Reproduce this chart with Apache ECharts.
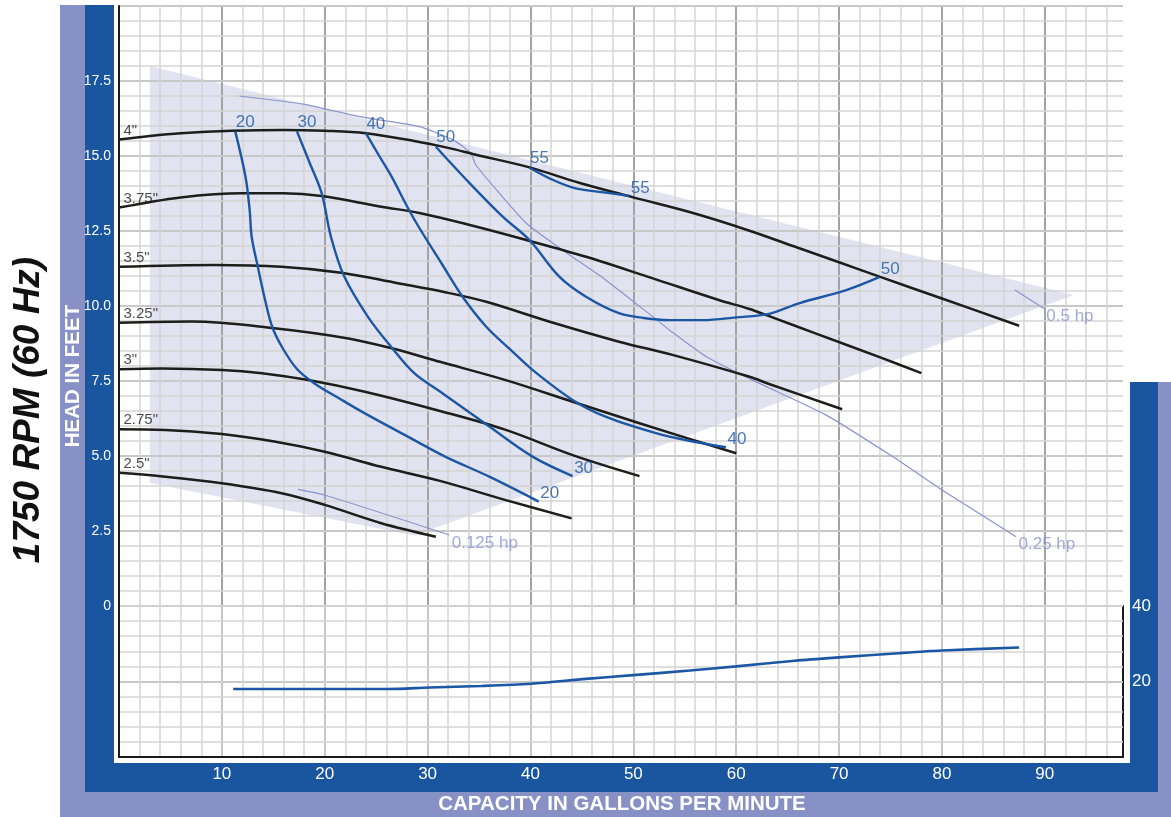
<!DOCTYPE html>
<html><head><meta charset="utf-8">
<script src="https://cdn.jsdelivr.net/npm/echarts@6/dist/echarts.min.js"></script>
<style>html,body{margin:0;padding:0;background:#fff}#c{width:1171px;height:817px}</style>
</head><body><div id="c"></div>
<script>
// ---------- DATA (GPM, head in feet) ----------
const impellerNames = ['4"', '3.75"', '3.5"', '3.25"', '3"', '2.75"', '2.5"'];
const imp4   = [[0,15.55],[3,15.67],[6,15.76],[11,15.84],[16,15.87],[20,15.84],[24,15.76],[28.7,15.5],[32,15.27],[34.6,15.05],[39.9,14.62],[44.8,14.1],[49.9,13.63],[55.8,13.1],[61.3,12.51],[66,11.94],[70,11.46],[74,10.97],[80,10.25],[87.5,9.34]];
const imp375 = [[0,13.28],[6,13.62],[12,13.76],[16,13.76],[19.7,13.67],[25.5,13.31],[29.2,13.1],[34.1,12.7],[39.6,12.2],[45.4,11.64],[51.9,10.92],[58.3,10.2],[61.3,9.9],[63.2,9.66],[67.7,9.09],[74.2,8.26],[78,7.76]];
const imp35  = [[0,11.31],[9.3,11.37],[15.8,11.31],[21.6,11.11],[27.1,10.76],[31.7,10.46],[35.7,10.14],[42.2,9.44],[48.6,8.81],[53.8,8.37],[61.3,7.64],[63.2,7.4],[70.3,6.56]];
const imp325 = [[0,9.44],[7.1,9.48],[15.1,9.26],[22.3,8.92],[26.5,8.59],[31.2,8.14],[37.6,7.53],[44.1,6.81],[50.6,6.09],[60,5.09]];
const imp3   = [[0,7.89],[4.1,7.92],[10,7.87],[13.9,7.76],[18.4,7.53],[23.9,7.14],[31.2,6.5],[37.6,5.87],[44.1,5.03],[50.6,4.33]];
const imp275 = [[0,5.89],[4.5,5.87],[10,5.73],[15.1,5.48],[20,5.14],[25.5,4.64],[31.2,4.17],[37.6,3.53],[44,2.92]];
const imp25  = [[0,4.44],[4.5,4.31],[10,4.09],[15.8,3.76],[20,3.37],[25.5,2.76],[30.8,2.31]];

const effNames = ['20', '30', '40', '50', '55'];
const eff20 = [[11.3,15.82],[12.3,14.3],[12.7,13.2],[12.9,12.3],[13.5,11.3],[14.2,10.2],[14.9,9.3],[15.9,8.6],[17.3,7.9],[19,7.42],[21.5,6.9],[23.9,6.42],[28.7,5.53],[31.7,4.98],[36,4.31],[40.8,3.48]];
const eff30 = [[17.3,15.82],[18.5,14.8],[19.7,13.76],[20.6,12.31],[21.9,10.98],[24.2,9.64],[26.5,8.62],[28.7,7.76],[31.2,7.15],[36,5.98],[40.2,4.98],[44.1,4.33]];
const eff40 = [[24,15.76],[25.3,15.0],[26.5,14.31],[28.1,13.26],[29.2,12.6],[31.3,11.45],[33.4,10.31],[35.7,9.31],[38.1,8.53],[40.2,7.87],[44.1,6.87],[47.3,6.31],[52.2,5.76],[55.5,5.5],[59,5.29]];
const eff50 = [[30.8,15.31],[34.1,14.09],[37.3,12.98],[39.9,12.2],[42.8,10.98],[45.4,10.31],[48.6,9.76],[51,9.6],[53.5,9.53],[56.7,9.53],[60,9.62],[63.2,9.74],[66.1,10.09],[70.7,10.53],[73.9,10.96]];
const eff55 = [[39.9,14.61],[42.2,14.2],[44.4,13.92],[47.3,13.78],[49.6,13.67]];

const hpNames = ['0.125 hp', '0.25 hp', '0.5 hp'];
const hp0125 = [[17.4,3.89],[20,3.7],[32.1,2.37]];
const hp025  = [[11.7,17.0],[17.9,16.73],[23.4,16.31],[29.2,15.98],[32.5,15.53],[34.2,15.09],[34.7,14.7],[36.7,13.87],[39.6,12.76],[43.1,11.87],[47.3,10.87],[51.9,9.64],[53.5,9.2],[57.1,8.31],[61.6,7.53],[68.7,6.37],[75.2,4.98],[80,3.87],[87.2,2.31]];
const hp05   = [[87.1,10.53],[89.9,9.92]];

// operating region (shaded)
const shadeVerts = [[3,18],[92.8,10.37],[28.7,2.35],[3,4.1]];

// lower panel: efficiency (%) vs GPM
const effPct = [[11.1,18],[26.1,18],[30.2,18.4],[35.2,18.8],[40,19.4],[45.4,20.7],[50,21.7],[55.5,22.9],[60,24.0],[65.7,25.5],[70,26.4],[75.8,27.5],[80,28.2],[87.5,29.0]];

// axis ranges / ticks
const gpmMax = 97.6, gpmMajor = 10, gpmMinor = 2;
const headMax = 20, headMajor = 2.5, headMinor = 0.5;
const pctMax = 40, pctMajor = 20, pctMinor = 4;

// ---------- STYLE ----------
const FONT = "'Liberation Sans', Arial, Helvetica, sans-serif";
const BLACK = '#1d1d1b', BLUE = '#1b57a5', HPC = '#8a94cf', SHADE = '#e1e3f0';
const LIGHT = '#8891c6', DARK = '#1a55a0';
const MINOR = '#d4d4d4', MAJOR = '#a3a3a3';

const impellers = [imp4, imp375, imp35, imp325, imp3, imp275, imp25];
const effs = [eff20, eff30, eff40, eff50, eff55];
const hps = [hp0125, hp025, hp05];

function gridAxisX(gi, interval, color, width, extra) {
  return Object.assign({
    type: 'value', gridIndex: gi, min: 0, max: gpmMax, interval: interval,
    axisLine: { show: false, onZero: false }, axisTick: { show: false },
    axisLabel: { show: false },
    splitLine: { show: true, showMaxLine: false, lineStyle: { color: color, width: width } },
    z: 0
  }, extra || {});
}
function gridAxisY(gi, max, interval, color, width, extra) {
  return Object.assign({
    type: 'value', gridIndex: gi, min: 0, max: max, interval: interval,
    axisLine: { show: false, onZero: false }, axisTick: { show: false },
    axisLabel: { show: false },
    splitLine: { show: true, lineStyle: { color: color, width: width } },
    z: 0
  }, extra || {});
}
const axisBlack = { show: true, onZero: false, lineStyle: { color: '#1a1a1a', width: 2 } };

const series = [];
series.push({
  type: 'custom', xAxisIndex: 0, yAxisIndex: 0, z: -1, silent: true,
  data: [shadeVerts[0]],
  renderItem: function (params, api) {
    return { type: 'polygon', shape: { points: shadeVerts.map(p => api.coord(p)) }, style: { fill: SHADE } };
  }
});
hps.forEach((d, i) => series.push({
  type: 'line', name: hpNames[i], data: d, xAxisIndex: 0, yAxisIndex: 0, z: 3,
  showSymbol: false, symbol: 'none', smooth: 0.2, lineStyle: { color: HPC, width: 1.2 }
}));
impellers.forEach((d, i) => series.push({
  type: 'line', name: impellerNames[i], data: d, xAxisIndex: 0, yAxisIndex: 0, z: 4,
  showSymbol: false, symbol: 'none', smooth: 0.35, lineStyle: { color: BLACK, width: 2.5 }
}));
effs.forEach((d, i) => series.push({
  type: 'line', name: effNames[i], data: d, xAxisIndex: 0, yAxisIndex: 0, z: 5,
  showSymbol: false, symbol: 'none', smooth: 0.35, lineStyle: { color: BLUE, width: 2.4 }
}));
series.push({
  type: 'line', data: effPct, xAxisIndex: 2, yAxisIndex: 2, z: 5,
  showSymbol: false, symbol: 'none', smooth: 0.3, lineStyle: { color: BLUE, width: 2.6 }
});

function labelSeries(items, color, size, offset) {
  return {
    type: 'scatter', xAxisIndex: 0, yAxisIndex: 0, z: 8, silent: true,
    symbol: 'circle', symbolSize: 1, itemStyle: { color: 'rgba(0,0,0,0)' },
    data: items.map(it => ({ value: it.p, name: it.t })),
    label: { show: true, position: 'right', distance: 0, offset: offset,
      formatter: p => p.name, color: color, fontSize: size, fontFamily: FONT }
  };
}
series.push(labelSeries(impellers.map((d, i) => ({ p: d[0], t: impellerNames[i] })), BLACK, 15, [4, -9]));
series.push(labelSeries(effs.map((d, i) => ({ p: d[0], t: effNames[i] })), BLUE, 17, [0, -9]));
series.push(labelSeries(effs.map((d, i) => ({ p: d[d.length - 1], t: effNames[i] })), BLUE, 17, [1, -8]));
series.push(labelSeries(hps.map((d, i) => ({ p: d[d.length - 1], t: hpNames[i] })), HPC, 17, [2, 8]));

const rect = (x, y, w, h, fill) => ({ type: 'rect', z: -10, silent: true, shape: { x: x, y: y, width: w, height: h }, style: { fill: fill } });

const option = {
  animation: false,
  backgroundColor: '#ffffff',
  textStyle: { fontFamily: FONT },
  grid: [
    { left: 119, top: 6, width: 1004, height: 600, outerBoundsMode: 'none' },
    { left: 119, top: 606, width: 1004, height: 151, outerBoundsMode: 'none' }
  ],
  xAxis: [
    gridAxisX(0, gpmMinor, MINOR, 1.5),
    gridAxisX(0, gpmMajor, MAJOR, 2),
    gridAxisX(1, gpmMinor, MINOR, 1.5, { axisLine: axisBlack, position: 'bottom', z: 2 }),
    gridAxisX(1, gpmMajor, MAJOR, 2, {
      position: 'bottom',
      axisLabel: { show: true, color: '#ffffff', fontSize: 17, fontFamily: FONT, margin: 9,
        formatter: v => (v > 0 && Math.abs(v % gpmMajor) < 1e-9) ? String(v) : '' }
    })
  ],
  yAxis: [
    gridAxisY(0, headMax, headMinor, MINOR, 1.5, { position: 'left', axisLine: axisBlack, z: 2 }),
    gridAxisY(0, headMax, headMajor, MAJOR, 2, {
      position: 'left',
      axisLabel: { show: true, color: '#ffffff', fontSize: 14, fontFamily: FONT, margin: 8,
        formatter: v => v === 0 ? '0' : (v >= headMax ? '' : v.toFixed(1)) }
    }),
    gridAxisY(1, pctMax, pctMinor, MINOR, 1.5, { position: 'left', axisLine: axisBlack, z: 2 }),
    gridAxisY(1, pctMax, pctMajor, MAJOR, 2, {
      position: 'right', axisLine: axisBlack, z: 1,
      axisLabel: { show: true, color: '#ffffff', fontSize: 17, fontFamily: FONT, margin: 9,
        formatter: v => v === 0 ? '' : String(v) }
    })
  ],
  graphic: { elements: [
    rect(60, 5, 25, 812, LIGHT),
    rect(60, 792, 1111, 25, LIGHT),
    rect(1158, 382, 13, 435, LIGHT),
    rect(85, 5, 29, 787, DARK),
    rect(85, 763, 1073, 29, DARK),
    rect(1130, 382, 28, 410, DARK),
    { type: 'text', z: -5, silent: true, x: 29, y: 410, rotation: Math.PI / 2,
      style: { text: '1750 RPM (60 Hz)', fill: '#111111', font: "italic bold 37px 'Liberation Sans', Arial, sans-serif", textAlign: 'center', textVerticalAlign: 'middle', verticalAlign: 'middle' } },
    { type: 'text', z: -5, silent: true, x: 73, y: 376, rotation: Math.PI / 2,
      style: { text: 'HEAD IN FEET', fill: '#ffffff', font: "bold 20.5px 'Liberation Sans', Arial, sans-serif", textAlign: 'center', textVerticalAlign: 'middle', verticalAlign: 'middle' } },
    { type: 'text', z: -5, silent: true, x: 622, y: 804,
      style: { text: 'CAPACITY IN GALLONS PER MINUTE', fill: '#ffffff', font: "bold 20.5px 'Liberation Sans', Arial, sans-serif", textAlign: 'center', textVerticalAlign: 'middle', verticalAlign: 'middle' } }
  ] },
  series: series
};

const chart = echarts.init(document.getElementById('c'), null, { renderer: 'canvas' });
chart.setOption(option);
</script>
</body></html>
